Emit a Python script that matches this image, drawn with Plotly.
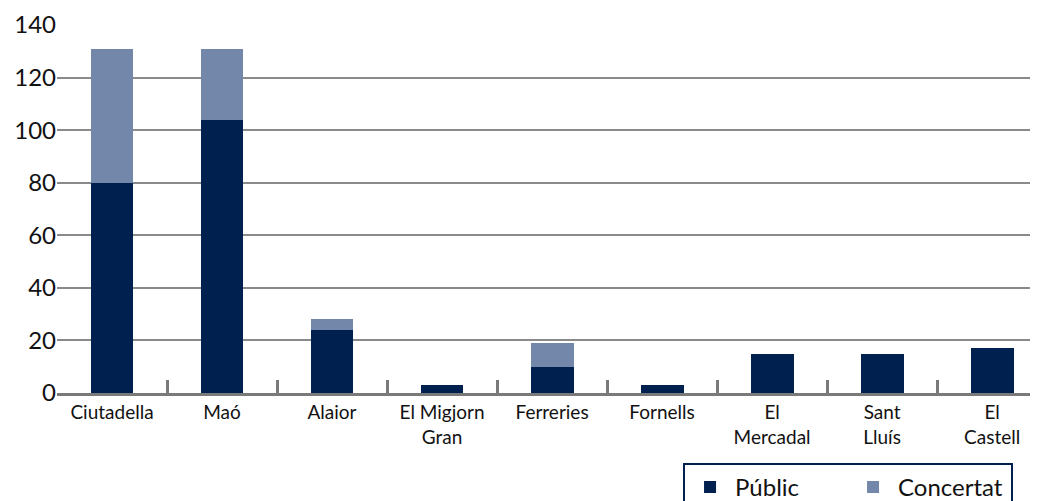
import plotly.graph_objects as go

municipis = ["Ciutadella", "Maó", "Alaior", "El Migjorn<br>Gran", "Ferreries",
             "Fornells", "El<br>Mercadal", "Sant<br>Lluís", "El<br>Castell"]
public = [80, 104, 24, 3, 10, 3, 15, 15, 17]
concertat = [51, 27, 4, 0, 9, 0, 0, 0, 0]
y_ticks = [0, 20, 40, 60, 80, 100, 120, 140]

COL_PUBLIC = "#00204f"
COL_CONCERTAT = "#7387ab"
GRID = "#8a8a8a"
FONT = "Lato"

fig = go.Figure()
fig.add_trace(go.Bar(x=municipis, y=public, name="Públic",
                     marker=dict(color=COL_PUBLIC, line=dict(width=0)), width=0.39))
fig.add_trace(go.Bar(x=municipis, y=concertat, name="Concertat",
                     marker=dict(color=COL_CONCERTAT, line=dict(width=0)), width=0.39))

fig.update_layout(
    barmode="stack",
    width=1038, height=501,
    margin=dict(l=49, r=0, t=17, b=116, autoexpand=False),
    paper_bgcolor="white",
    plot_bgcolor="white",
    font=dict(family=FONT, color="#1a1a1a"),
    showlegend=True,
    legend=dict(
        orientation="h",
        x=0.633, xanchor="left",
        y=-0.19, yanchor="top",
        bordercolor=COL_PUBLIC, borderwidth=2,
        font=dict(size=24, family=FONT, color="#111"),
        itemwidth=40,
        entrywidth=108,
        traceorder="normal",
    ),
)

fig.update_xaxes(
    range=[-0.5, 8.49],
    showgrid=False,
    showline=True, linecolor="#7a7a7a", linewidth=3,
    ticks="inside", tickson="boundaries", ticklen=13, tickwidth=3, tickcolor="#7a7a7a",
    tickfont=dict(size=19, family=FONT, color="#111"),
)

fig.update_yaxes(
    range=[0, 140],
    tickvals=y_ticks,
    showgrid=True, gridcolor=GRID, gridwidth=2,
    zeroline=False,
    showline=False,
    ticks="",
    tickfont=dict(size=24, family=FONT, color="#111"),
)

fig.write_html("out.html")
